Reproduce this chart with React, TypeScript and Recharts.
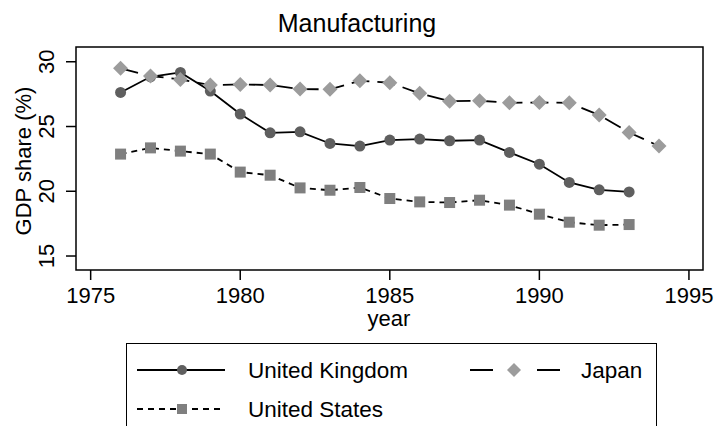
import React from 'react';
import { LineChart, Line, XAxis, YAxis, ReferenceArea, Legend } from 'recharts';

const years = [1976, 1977, 1978, 1979, 1980, 1981, 1982, 1983, 1984, 1985, 1986, 1987, 1988, 1989, 1990, 1991, 1992, 1993, 1994];
const ukShare = [27.63, 28.84, 29.18, 27.74, 25.96, 24.51, 24.59, 23.69, 23.49, 23.95, 24.03, 23.9, 23.95, 23.0, 22.09, 20.68, 20.11, 19.95, null];
const japanShare = [29.49, 28.9, 28.64, 28.2, 28.25, 28.2, 27.89, 27.87, 28.53, 28.38, 27.56, 26.96, 26.99, 26.83, 26.86, 26.83, 25.88, 24.54, 23.49];
const usShare = [22.87, 23.35, 23.1, 22.87, 21.48, 21.24, 20.26, 20.08, 20.29, 19.44, 19.18, 19.13, 19.31, 18.93, 18.23, 17.61, 17.38, 17.43, null];

const xTicks = [1975, 1980, 1985, 1990, 1995];
const yTicks = [15, 20, 25, 30];
const xDomain = [1974.51, 1995.47];
const yDomain = [13.92, 31.14];

const data = years.map((year, i) => ({
  year,
  uk: ukShare[i],
  japan: japanShare[i],
  us: usShare[i],
}));

const FONT = '"Liberation Sans", Arial, Helvetica, sans-serif';

const circleDot = (p: any) => {
  if (p.cy == null || p.value == null) return <g key={p.key} />;
  return <circle key={p.key} cx={p.cx} cy={p.cy} r={5.5} fill="#5f5f5f" />;
};

const diamondDot = (p: any) => {
  if (p.cy == null || p.value == null) return <g key={p.key} />;
  const s = 7.5;
  return (
    <polygon
      key={p.key}
      points={`${p.cx},${p.cy - s} ${p.cx + s},${p.cy} ${p.cx},${p.cy + s} ${p.cx - s},${p.cy}`}
      fill="#9c9c9c"
    />
  );
};

const squareDot = (p: any) => {
  if (p.cy == null || p.value == null) return <g key={p.key} />;
  const s = 5.5;
  return <rect key={p.key} x={p.cx - s} y={p.cy - s} width={s * 2} height={s * 2} fill="#7f7f7f" />;
};

const YTick = (props: any) => {
  const { x, y, payload } = props;
  const tx = x - 12;
  return (
    <text x={tx} y={y} transform={`rotate(-90 ${tx} ${y})`} textAnchor="middle" fontSize={22} fill="#000" fontFamily={FONT}>
      {payload.value}
    </text>
  );
};

const LegendBox = () => (
  <div style={{ width: 531, height: 100, border: '1.5px solid #000', boxSizing: 'border-box', background: '#fff' }}>
    <svg width={529} height={98}>
      {/* United Kingdom */}
      <line x1={10} y1={26} x2={98} y2={26} stroke="#000" strokeWidth={1.8} />
      <circle cx={55} cy={26} r={5} fill="#5f5f5f" />
      <text x={121} y={34} fontSize={22.5} fontFamily={FONT} fill="#000">United Kingdom</text>
      {/* Japan */}
      <line x1={343} y1={26} x2={433} y2={26} stroke="#000" strokeWidth={1.8} strokeDasharray="23 44" />
      <polygon points="387,19 394,26 387,33 380,26" fill="#9c9c9c" />
      <text x={454} y={34} fontSize={22.5} fontFamily={FONT} fill="#000">Japan</text>
      {/* United States */}
      <line x1={10} y1={65} x2={98} y2={65} stroke="#000" strokeWidth={1.8} strokeDasharray="6 5" />
      <rect x={50} y={60} width={10} height={10} fill="#7f7f7f" />
      <text x={121} y={73} fontSize={22.5} fontFamily={FONT} fill="#000">United States</text>
    </svg>
  </div>
);

export default function App() {
  return (
    <div style={{ position: 'absolute', left: 0, top: 0, width: 718, height: 426, background: '#fff', fontFamily: FONT }}>
      <LineChart width={718} height={426} data={data} margin={{ top: 47, right: 15, left: 16, bottom: 106 }}>
        <XAxis
          dataKey="year"
          type="number"
          domain={xDomain}
          ticks={xTicks}
          allowDataOverflow
          axisLine={false}
          tickLine={{ stroke: '#000', strokeWidth: 1.5 }}
          tickSize={10}
          tickMargin={7}
          height={50}
          tick={{ fill: '#000', fontSize: 22, fontFamily: FONT }}
        />
        <YAxis
          type="number"
          domain={yDomain}
          ticks={yTicks}
          allowDataOverflow
          axisLine={false}
          tickLine={{ stroke: '#000', strokeWidth: 1.5 }}
          tickSize={10}
          tickMargin={0}
          width={60}
          tick={<YTick />}
        />
        <ReferenceArea
          x1={xDomain[0]}
          x2={xDomain[1]}
          y1={yDomain[0]}
          y2={yDomain[1]}
          fill="none"
          stroke="#000"
          strokeWidth={1.5}
        />
        <Line dataKey="uk" name="United Kingdom" stroke="#000" strokeWidth={1.8} dot={circleDot} isAnimationActive={false} />
        <Line dataKey="japan" name="Japan" stroke="#000" strokeWidth={1.8} strokeDasharray="18 8" dot={diamondDot} isAnimationActive={false} />
        <Line dataKey="us" name="United States" stroke="#000" strokeWidth={1.8} strokeDasharray="6 5" dot={squareDot} isAnimationActive={false} />
        <Legend
          layout="horizontal"
          verticalAlign="middle"
          align="center"
          wrapperStyle={{ left: 126, top: 343, width: 531, height: 100 }}
          content={() => <LegendBox />}
        />
        <text x={357} y={32} textAnchor="middle" fontSize={25} fontFamily={FONT} fill="#000">Manufacturing</text>
        <text x={389} y={326} textAnchor="middle" fontSize={22} fontFamily={FONT} fill="#000">year</text>
        <text x={31} y={161} textAnchor="middle" fontSize={22} fontFamily={FONT} fill="#000" transform="rotate(-90 31 161)">GDP share (%)</text>
      </LineChart>
    </div>
  );
}
